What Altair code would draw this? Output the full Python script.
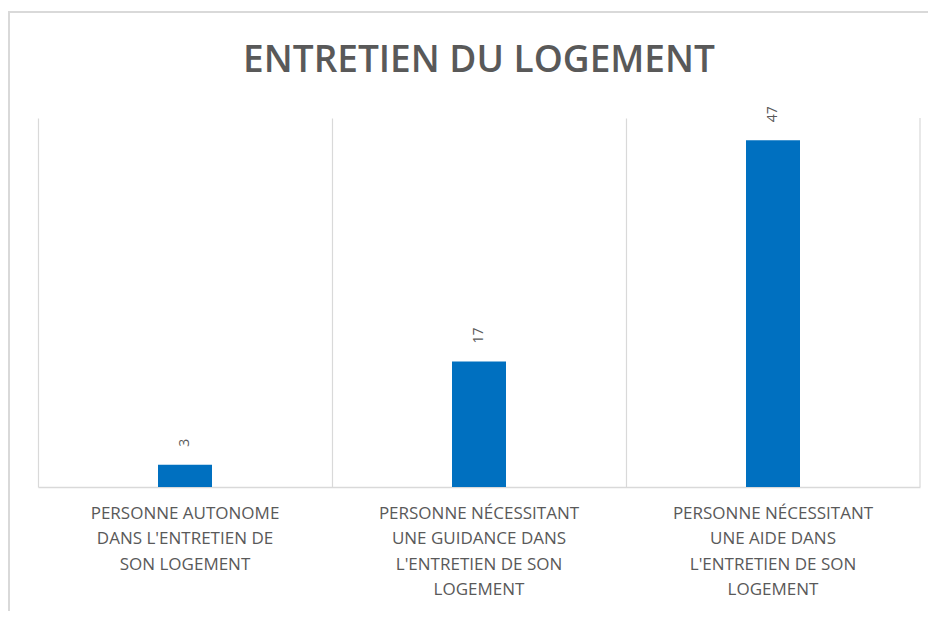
import altair as alt
import pandas as pd

categories = [
    "PERSONNE AUTONOME\nDANS L'ENTRETIEN DE\nSON LOGEMENT",
    "PERSONNE NÉCESSITANT\nUNE GUIDANCE DANS\nL'ENTRETIEN DE SON\nLOGEMENT",
    "PERSONNE NÉCESSITANT\nUNE AIDE DANS\nL'ENTRETIEN DE SON\nLOGEMENT",
]
values = [3, 17, 47]
title_text = "ENTRETIEN DU LOGEMENT"

df = pd.DataFrame({"cat": categories, "val": values})

W = 882
H = 369
GRID = "#d9d9d9"
TXT = "#595959"
BAR = "#0070C0"

x_enc = alt.X(
    "cat:N",
    sort=categories,
    scale=alt.Scale(paddingInner=0, paddingOuter=0),
    axis=alt.Axis(
        title=None,
        labelAngle=0,
        labelExpr="split(datum.label, '\\n')",
        labelFont="Open Sans",
        labelFontSize=17,
        labelColor=TXT,
        labelLineHeight=25.5,
        labelPadding=18,
        labelBaseline="top",
        labelLimit=0,
        ticks=False,
        domainColor=GRID,
        domainWidth=1.5,
        grid=True,
        gridColor=GRID,
        gridWidth=1.2,
        bandPosition=0,
    ),
)
y_scale = alt.Scale(domain=[0, 50])

base = alt.Chart(df)

bars = base.mark_bar(color=BAR, size=54).encode(
    x=x_enc,
    y=alt.Y("val:Q", scale=y_scale, axis=None),
)

labels = base.mark_text(
    angle=270, align="left", baseline="middle", dx=18,
    font="Open Sans", fontSize=14, color=TXT,
).encode(
    x=alt.X("cat:N", sort=categories),
    y=alt.Y("val:Q", scale=y_scale),
    text=alt.Text("val:Q"),
)

right_grid = alt.Chart(alt.Data(values=[{}])).mark_rule(
    color=GRID, strokeWidth=1.2
).encode(x=alt.value(W), y=alt.value(0), y2=alt.value(H))

frame = alt.Chart(alt.Data(values=[{}])).mark_rect(
    fill=None, fillOpacity=0, stroke=GRID, strokeWidth=2
).encode(
    x=alt.value(-29), x2=alt.value(W + 80),
    y=alt.value(-106), y2=alt.value(H + 200),
)

title = alt.Chart(alt.Data(values=[{"t": title_text}])).mark_text(
    font="Open Sans", fontSize=37, fontWeight=600, color=TXT,
    align="center", baseline="alphabetic",
).encode(text="t:N", x=alt.value(W / 2), y=alt.value(-46))

chart = alt.layer(frame, bars, labels, right_grid, title).properties(
    width=W,
    height=H,
    padding={"left": 30, "top": 110, "right": 8, "bottom": 124},
    autosize=alt.AutoSizeParams(type="none"),
).configure_view(stroke=None)

chart.save("out.html", embed_options={"renderer": "svg", "actions": False})
